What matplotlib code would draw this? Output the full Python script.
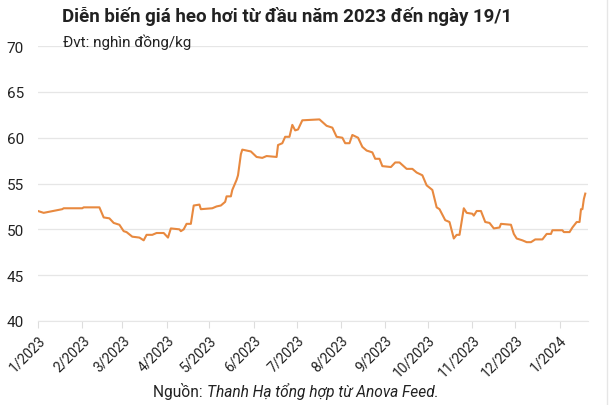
import pandas as pd
import matplotlib
matplotlib.use("Agg")
import matplotlib.pyplot as plt
from matplotlib.lines import Line2D

plt.rcParams['font.family'] = ['Roboto', 'DejaVu Sans']

# Giá heo hơi (nghìn đồng/kg)
dates = [
    "2023-01-01", "2023-01-05", "2023-01-18", "2023-01-19", "2023-02-01", "2023-02-02",
    "2023-02-13", "2023-02-16", "2023-02-20", "2023-02-23", "2023-02-27", "2023-03-02",
    "2023-03-04", "2023-03-08", "2023-03-13", "2023-03-16", "2023-03-18", "2023-03-22",
    "2023-03-25", "2023-03-30", "2023-04-02", "2023-04-04", "2023-04-10", "2023-04-11",
    "2023-04-13", "2023-04-15", "2023-04-18", "2023-04-20", "2023-04-24", "2023-04-25",
    "2023-05-03", "2023-05-06", "2023-05-09", "2023-05-12", "2023-05-13", "2023-05-16",
    "2023-05-17", "2023-05-20", "2023-05-21", "2023-05-23", "2023-05-24", "2023-05-30",
    "2023-06-03", "2023-06-07", "2023-06-10", "2023-06-17", "2023-06-18", "2023-06-21",
    "2023-06-23", "2023-06-26", "2023-06-28", "2023-06-30", "2023-07-02", "2023-07-05",
    "2023-07-17", "2023-07-22", "2023-07-26", "2023-07-29", "2023-08-02", "2023-08-04",
    "2023-08-07", "2023-08-09", "2023-08-13", "2023-08-16", "2023-08-19", "2023-08-23",
    "2023-08-25", "2023-08-28", "2023-08-30", "2023-09-05", "2023-09-08", "2023-09-11",
    "2023-09-16", "2023-09-20", "2023-09-23", "2023-09-27", "2023-09-30", "2023-10-04",
    "2023-10-07", "2023-10-09", "2023-10-13", "2023-10-16", "2023-10-19", "2023-10-21",
    "2023-10-23", "2023-10-26", "2023-10-28", "2023-11-01", "2023-11-02", "2023-11-04",
    "2023-11-07", "2023-11-10", "2023-11-13", "2023-11-16", "2023-11-20", "2023-11-21",
    "2023-11-28", "2023-11-30", "2023-12-02", "2023-12-06", "2023-12-09", "2023-12-12",
    "2023-12-15", "2023-12-20", "2023-12-23", "2023-12-26", "2023-12-27", "2024-01-03",
    "2024-01-04", "2024-01-08", "2024-01-10", "2024-01-13", "2024-01-15", "2024-01-16",
    "2024-01-17", "2024-01-18", "2024-01-19",
]
prices = [
    52.0, 51.8, 52.2, 52.3, 52.3, 52.4,
    52.4, 51.3, 51.2, 50.7, 50.5, 49.8,
    49.7, 49.2, 49.1, 48.8, 49.4, 49.4,
    49.6, 49.6, 49.1, 50.1, 50.0, 49.8,
    50.0, 50.6, 50.6, 52.6, 52.7, 52.2,
    52.3, 52.5, 52.6, 53.0, 53.6, 53.6,
    54.3, 55.4, 55.9, 58.2, 58.7, 58.5,
    57.9, 57.8, 58.0, 57.9, 59.2, 59.4,
    60.1, 60.1, 61.4, 60.8, 60.9, 61.9,
    62.0, 61.3, 61.1, 60.1, 60.0, 59.4,
    59.4, 60.3, 60.0, 59.0, 58.6, 58.4,
    57.7, 57.7, 56.9, 56.8, 57.3, 57.3,
    56.6, 56.6, 56.2, 55.9, 54.8, 54.3,
    52.4, 52.2, 51.0, 50.8, 49.0, 49.4,
    49.4, 52.3, 51.8, 51.7, 51.5, 52.0,
    52.0, 50.8, 50.7, 50.1, 50.2, 50.6,
    50.5, 49.5, 49.0, 48.8, 48.6, 48.6,
    48.9, 48.9, 49.5, 49.5, 49.9, 49.9,
    49.7, 49.7, 50.2, 50.8, 50.8, 52.2,
    52.2, 53.3, 53.9,
]
tick_dates = pd.date_range("2023-01-01", "2024-01-01", freq="MS")
tick_labels = [f"{d.month}/{d.year}" for d in tick_dates]
y_ticks = [40, 45, 50, 55, 60, 65, 70]

title = "Diễn biến giá heo hơi từ đầu năm 2023 đến ngày 19/1"
unit = "Đvt: nghìn đồng/kg"

x = pd.to_datetime(dates)

fig = plt.figure(figsize=(6.12, 4.06), dpi=100)
ax = fig.add_axes([0.062, 0.207, 0.899, 0.677])

ax.plot(x, prices, color="#E8893F", linewidth=1.5)

ax.set_ylim(40, 70)
ax.set_yticks(y_ticks)
ax.set_xlim(pd.Timestamp("2023-01-01"), pd.Timestamp("2024-01-21"))
ax.set_xticks(tick_dates)
ax.set_xticklabels(tick_labels, rotation=45, ha="right", va="top",
                   rotation_mode="anchor", fontsize=10, color="#222222")
ax.tick_params(axis="y", length=0, labelsize=11, colors="#222222", pad=10)
ax.tick_params(axis="x", length=5, color="#dddddd", pad=3)

ax.grid(axis="y", color="#e6e6e6", linewidth=0.9)
ax.set_axisbelow(True)
for side in ["top", "right", "left"]:
    ax.spines[side].set_visible(False)
ax.spines["bottom"].set_color("#e6e6e6")

fig.text(0.101, 0.96, title, fontsize=13.5, fontweight="bold", color="#222222", va="center")
fig.text(0.103, 0.895, unit, fontsize=11, color="#222222", va="center")

fig.text(0.338, 0.035, "Nguồn: ", fontsize=11.2, color="#222222", ha="right", va="center")
fig.text(0.338, 0.035, "Thanh Hạ tổng hợp từ Anova Feed.", fontsize=11.2, style="italic",
         color="#222222", ha="left", va="center")

fig.add_artist(Line2D([0.992, 0.992], [0, 1], color="#e6e6e6", linewidth=1))

fig.savefig("out.png", dpi=100, facecolor="white")
